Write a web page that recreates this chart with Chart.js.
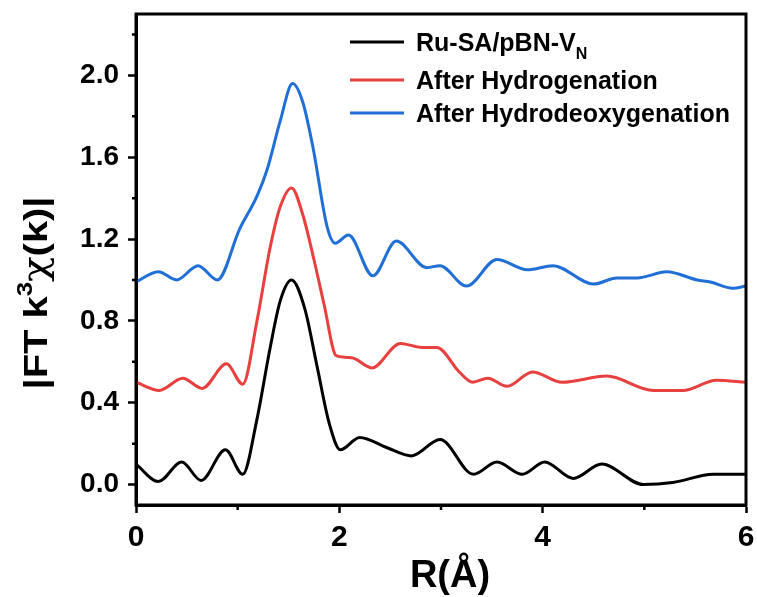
<!DOCTYPE html>
<html>
<head>
<meta charset="utf-8">
<script src="https://cdn.jsdelivr.net/npm/chart.js@4.4.1/dist/chart.umd.min.js"></script>
<style>
  html, body { margin: 0; padding: 0; background: #fff; }
  #wrap { width: 757px; height: 597px; }
</style>
</head>
<body>
<div id="wrap"><canvas id="ftChart" width="757" height="597"></canvas></div>
<script>
// Waarden: R (Å) en |FT k3 chi(k)|
const blackR = [0.00, 0.22, 0.45, 0.64, 0.88, 1.05, 1.19, 1.32, 1.42, 1.53, 1.66, 1.78, 1.90, 2.01, 2.20, 2.47, 2.71, 2.99, 3.32, 3.55, 3.80, 4.02, 4.30, 4.58, 4.99, 5.28, 5.68, 6.00];
const blackY = [0.10, 0.015, 0.11, 0.02, 0.17, 0.05, 0.32, 0.67, 0.90, 1.00, 0.86, 0.58, 0.30, 0.17, 0.23, 0.18, 0.14, 0.22, 0.05, 0.11, 0.05, 0.11, 0.03, 0.10, 0.00, 0.01, 0.05, 0.05];

const redR = [0.00, 0.23, 0.46, 0.65, 0.89, 1.05, 1.19, 1.32, 1.42, 1.53, 1.64, 1.75, 1.85, 1.97, 2.12, 2.32, 2.60, 2.81, 2.96, 3.18, 3.31, 3.46, 3.65, 3.90, 4.19, 4.63, 5.09, 5.38, 5.71, 6.00];
const redY = [0.50, 0.46, 0.52, 0.47, 0.59, 0.49, 0.80, 1.16, 1.36, 1.45, 1.32, 1.10, 0.88, 0.63, 0.62, 0.57, 0.69, 0.67, 0.67, 0.55, 0.50, 0.52, 0.48, 0.55, 0.50, 0.53, 0.46, 0.46, 0.51, 0.50];

const blueR = [0.00, 0.22, 0.40, 0.61, 0.80, 1.02, 1.19, 1.29, 1.42, 1.54, 1.64, 1.74, 1.88, 1.96, 2.09, 2.33, 2.56, 2.86, 2.99, 3.25, 3.55, 3.85, 4.10, 4.50, 4.73, 4.93, 5.22, 5.52, 5.65, 5.87, 6.00];
const blueY = [0.99, 1.04, 1.00, 1.07, 1.00, 1.25, 1.41, 1.54, 1.78, 1.96, 1.87, 1.65, 1.26, 1.18, 1.22, 1.02, 1.19, 1.06, 1.07, 0.97, 1.10, 1.05, 1.07, 0.98, 1.01, 1.01, 1.04, 1.00, 0.99, 0.96, 0.97];

const seriesNames = ['Ru-SA/pBN-V', 'After Hydrogenation', 'After Hydrodeoxygenation'];
const seriesSubs = ['N', '', ''];
const seriesColors = ['#000000', '#e8403f', '#1f6fd6'];

const xTicks = [0, 2, 4, 6];
const xMinor = [1, 3, 5];
const yTicks = [0.0, 0.4, 0.8, 1.2, 1.6, 2.0];
const yMinor = [0.2, 0.6, 1.0, 1.4, 1.8, 2.2];

const toPoints = (xs, ys) => xs.map((x, i) => ({ x, y: ys[i] }));

// Kader, kleine tickjes, legenda en astitels zelf tekenen
const decorPlugin = {
    id: 'decor',
    afterDraw(chart) {
        const { ctx, chartArea: a, scales } = chart;
        ctx.save();
        ctx.strokeStyle = '#000';
        ctx.lineWidth = 3;
        ctx.strokeRect(a.left, a.top, a.right - a.left, a.bottom - a.top);

        // kleine tickjes
        ctx.lineWidth = 2.5;
        ctx.beginPath();
        yMinor.forEach(v => {
            const py = scales.y.getPixelForValue(v);
            ctx.moveTo(a.left - 4, py); ctx.lineTo(a.left, py);
        });
        xMinor.forEach(v => {
            const px = scales.x.getPixelForValue(v);
            ctx.moveTo(px, a.bottom); ctx.lineTo(px, a.bottom + 5);
        });
        ctx.stroke();

        // legenda
        const rowY = [42, 80, 113];
        ctx.textBaseline = 'alphabetic';
        ctx.textAlign = 'left';
        seriesNames.forEach((name, i) => {
            ctx.strokeStyle = seriesColors[i];
            ctx.lineWidth = 3;
            ctx.beginPath();
            ctx.moveTo(350, rowY[i]); ctx.lineTo(404, rowY[i]);
            ctx.stroke();
            ctx.fillStyle = '#000';
            ctx.font = 'bold 25px "Liberation Sans", Arial, sans-serif';
            ctx.fillText(name, 416, rowY[i] + 9);
            if (seriesSubs[i]) {
                const w = ctx.measureText(name).width;
                ctx.font = 'bold 16px "Liberation Sans", Arial, sans-serif';
                ctx.fillText(seriesSubs[i], 416 + w, rowY[i] + 17);
            }
        });

        // y-titel: |FT k^3 chi(k)|
        ctx.save();
        ctx.translate(47, 293);
        ctx.rotate(-Math.PI / 2);
        const big = 'bold 34px "Liberation Sans", Arial, sans-serif';
        const sup = 'bold 22px "Liberation Sans", Arial, sans-serif';
        const chi = '36px "DejaVu Serif", serif';
        const parts = [
            { t: '|FT k', f: big, dy: 0 },
            { t: '3', f: sup, dy: -15 },
            { t: '\u03C7', f: chi, dy: 0 },
            { t: '(k)|', f: big, dy: 0 }
        ];
        let total = 0;
        parts.forEach(p => { ctx.font = p.f; p.w = ctx.measureText(p.t).width; total += p.w; });
        const sx = 193 / total;
        ctx.scale(sx, 1);
        let cx = -total / 2;
        ctx.fillStyle = '#000';
        parts.forEach(p => { ctx.font = p.f; ctx.fillText(p.t, cx, p.dy); cx += p.w; });
        ctx.restore();

        // x-titel
        ctx.font = 'bold 38px "Liberation Sans", Arial, sans-serif';
        ctx.textAlign = 'center';
        ctx.fillStyle = '#000';
        ctx.fillText('R(\u00C5)', 450, 587);
        ctx.restore();
    }
};

const ctx = document.getElementById('ftChart').getContext('2d');
new Chart(ctx, {
    type: 'line',
    data: {
        datasets: [
            { label: seriesNames[0], data: toPoints(blackR, blackY), borderColor: seriesColors[0] },
            { label: seriesNames[1], data: toPoints(redR, redY), borderColor: seriesColors[1] },
            { label: seriesNames[2], data: toPoints(blueR, blueY), borderColor: seriesColors[2] }
        ].map(ds => ({ ...ds, borderWidth: 3, pointRadius: 0, fill: false, cubicInterpolationMode: 'monotone' }))
    },
    options: {
        responsive: false,
        animation: false,
        layout: { padding: { left: 0, top: 14, right: 11, bottom: 0 } },
        plugins: { legend: { display: false }, tooltip: { enabled: false } },
        scales: {
            x: {
                type: 'linear', min: 0, max: 6,
                afterFit: s => { s.height = 92; s.paddingLeft = 0; s.paddingRight = 0; },
                afterBuildTicks: s => { s.ticks = xTicks.map(v => ({ value: v })); },
                grid: { drawOnChartArea: false, drawTicks: true, tickLength: 8, tickWidth: 2.5, tickColor: '#000' },
                border: { display: true, color: '#000', width: 3 },
                ticks: { color: '#000', padding: 7, maxRotation: 0, font: { family: '"Liberation Sans", Arial, sans-serif', size: 30, weight: 'bold' } }
            },
            y: {
                type: 'linear', min: -0.1, max: 2.3,
                afterFit: s => { s.width = 136; s.paddingTop = 0; s.paddingBottom = 0; },
                afterBuildTicks: s => { s.ticks = yTicks.map(v => ({ value: v })); },
                grid: { drawOnChartArea: false, drawTicks: true, tickLength: 8, tickWidth: 2.5, tickColor: '#000' },
                border: { display: true, color: '#000', width: 3 },
                ticks: { color: '#000', padding: 9, callback: v => v.toFixed(1), font: { family: '"Liberation Sans", Arial, sans-serif', size: 28, weight: 'bold' } }
            }
        }
    },
    plugins: [decorPlugin]
});
</script>
</body>
</html>
